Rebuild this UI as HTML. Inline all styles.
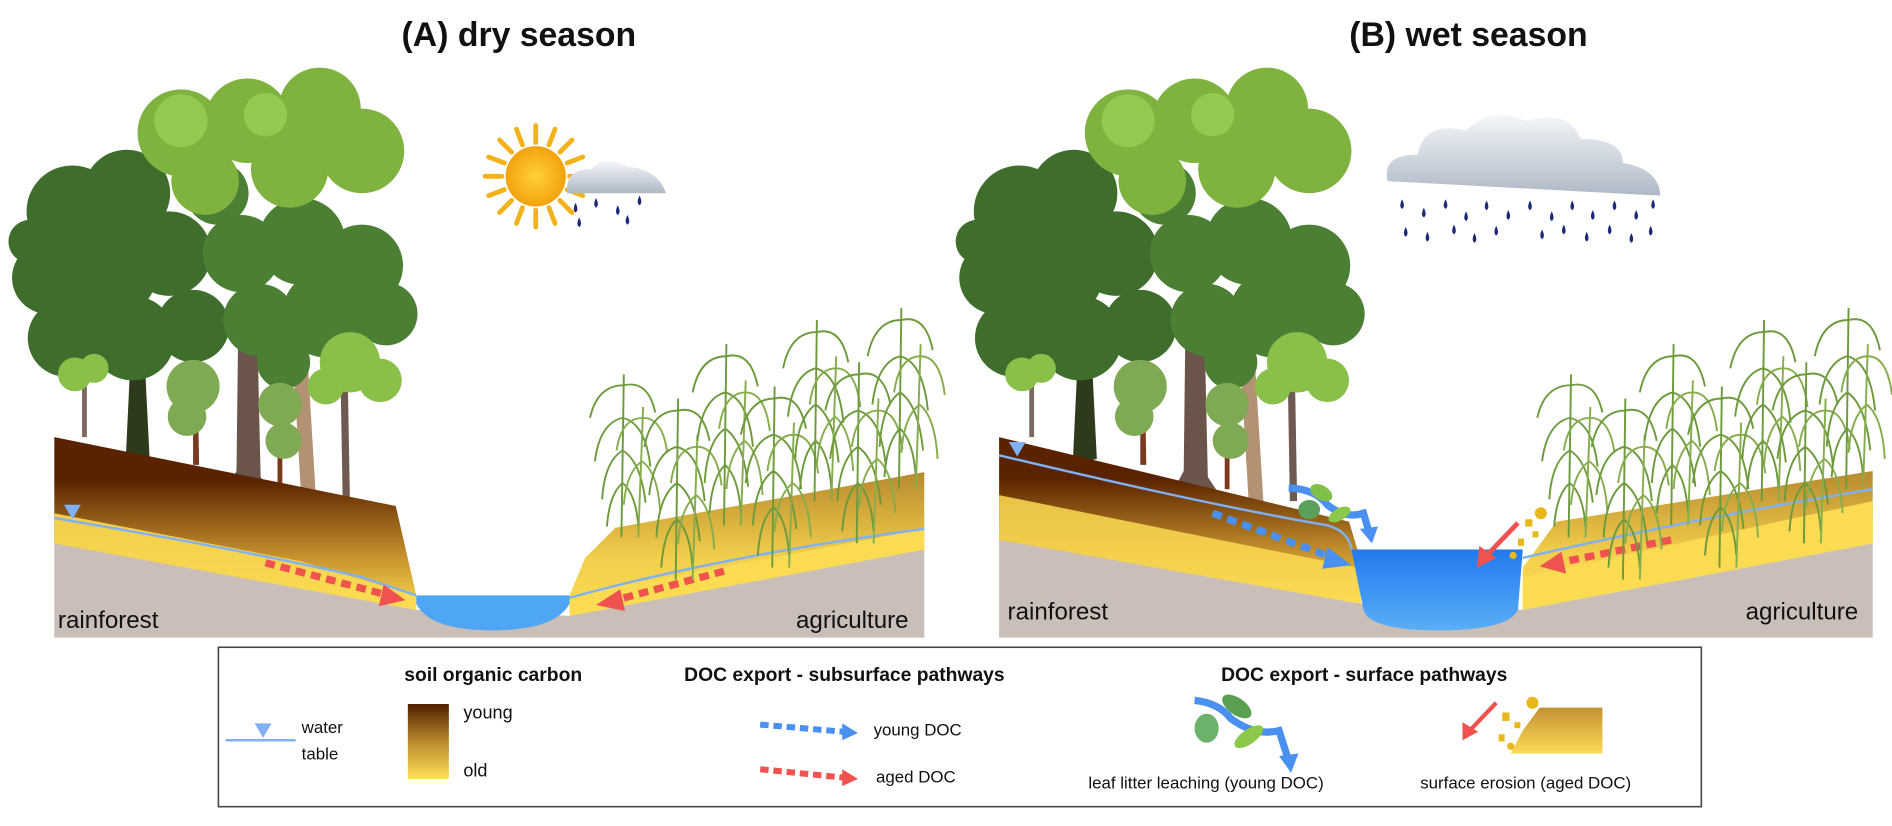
<!DOCTYPE html>
<html><head><meta charset="utf-8"><style>
html,body{margin:0;padding:0;background:#fff;}
svg{display:block;}
text{font-family:"Liberation Sans",Arial,sans-serif;}
</style></head><body>
<svg width="1892" height="826" viewBox="0 0 1568 684" preserveAspectRatio="none" xmlns="http://www.w3.org/2000/svg">
<defs>
<linearGradient id="soilL" x1="0" y1="0" x2="0" y2="1">
<stop offset="0" stop-color="#5a2300"/><stop offset="0.25" stop-color="#5a2300"/><stop offset="0.7" stop-color="#c8942e"/><stop offset="1" stop-color="#fbdb52"/></linearGradient>
<linearGradient id="soilR" x1="0" y1="0" x2="0" y2="1">
<stop offset="0" stop-color="#b88a2e"/><stop offset="0.6" stop-color="#f2cf4c"/><stop offset="1" stop-color="#fbdc55"/></linearGradient>
<linearGradient id="leg" x1="0" y1="0" x2="0" y2="1">
<stop offset="0" stop-color="#4f1f00"/><stop offset="0.5" stop-color="#b98a2c"/><stop offset="1" stop-color="#fde058"/></linearGradient>
<linearGradient id="eros" x1="0" y1="0" x2="0" y2="1">
<stop offset="0" stop-color="#c39133"/><stop offset="1" stop-color="#fbdb55"/></linearGradient>
<linearGradient id="wB" x1="0" y1="0" x2="0" y2="1">
<stop offset="0" stop-color="#2279ee"/><stop offset="1" stop-color="#5aaef7"/></linearGradient>
<radialGradient id="sun"><stop offset="0" stop-color="#ffd23a"/><stop offset="1" stop-color="#f2a20c"/></radialGradient>
<linearGradient id="cloud" x1="0" y1="0" x2="0" y2="1"><stop offset="0" stop-color="#f4f6f9"/><stop offset="1" stop-color="#aeb9c6"/></linearGradient>
<g id="trees">
 <path d="M108,300 L120,300 L124,380 L104,385 Z" fill="#2e3a1c"/>
 <path d="M198,220 L212,220 L216,395 L226,410 L188,405 L196,390 Z" fill="#6b554a"/>
 <path d="M240,250 L252,250 L262,415 L250,418 Z" fill="#b39274"/>
 <path d="M282,300 L288,300 L290,415 L284,415 Z" fill="#6e5a50"/>
 <path d="M68,320 L72,320 L72,362 L68,362 Z" fill="#7b6a60"/>
 <path d="M160,330 L164,330 L165,385 L160,385 Z" fill="#7a3a20"/>
 <path d="M230,350 L234,350 L234,405 L230,405 Z" fill="#7a3a20"/>
 <g fill="#3f6d2b">
 <circle cx="60" cy="175" r="38"/><circle cx="105" cy="160" r="36"/><circle cx="40" cy="230" r="30"/>
 <circle cx="90" cy="225" r="40"/><circle cx="140" cy="210" r="35"/><circle cx="55" cy="280" r="32"/>
 <circle cx="110" cy="280" r="35"/><circle cx="160" cy="270" r="30"/><circle cx="25" cy="200" r="18"/>
 </g>
 <g fill="#4b7f33">
 <circle cx="200" cy="210" r="32"/><circle cx="250" cy="200" r="36"/><circle cx="300" cy="220" r="34"/>
 <circle cx="215" cy="265" r="30"/><circle cx="270" cy="260" r="36"/><circle cx="320" cy="260" r="26"/>
 <circle cx="180" cy="160" r="26"/><circle cx="235" cy="300" r="22"/>
 </g>
 <g fill="#7fb23e">
 <circle cx="150" cy="110" r="36"/><circle cx="205" cy="100" r="35"/><circle cx="265" cy="90" r="34"/>
 <circle cx="300" cy="125" r="35"/><circle cx="170" cy="150" r="28"/><circle cx="240" cy="140" r="32"/>
 <circle cx="270" cy="75" r="18"/>
 </g>
 <g fill="#95c84e"><circle cx="150" cy="100" r="22"/><circle cx="220" cy="95" r="18"/></g>
 <g fill="#8ac04a"><circle cx="290" cy="300" r="25"/><circle cx="315" cy="315" r="18"/><circle cx="270" cy="320" r="15"/>
 <circle cx="62" cy="310" r="14"/><circle cx="78" cy="305" r="12"/></g>
 <g fill="#7fa952"><circle cx="160" cy="320" r="22"/><circle cx="155" cy="345" r="16"/>
 <circle cx="232" cy="335" r="18"/><circle cx="235" cy="365" r="15"/></g>
</g>
<g id="clump" stroke="#6d9a3c" stroke-width="1.6" fill="none">
 <path d="M0,150 L2,0 M2,10 Q-20,10 -26,40 M2,10 Q22,5 28,35 M1,40 Q-18,45 -22,80 M1,40 Q20,45 24,85 M1,70 Q-14,80 -16,115 M1,70 Q16,80 20,118 M1,100 Q-10,110 -12,140 M1,100 Q12,110 14,140"/>
 <path d="M14,150 L18,30 M18,40 Q0,40 -4,70 M18,40 Q34,40 38,72 M17,80 Q4,90 2,120 M17,80 Q30,90 32,125" stroke="#86ad4d"/>
</g>
<g id="cane">
 <use href="#clump" x="10" y="0" transform="translate(0,20) scale(1,0.9)"/>
 <use href="#clump" x="55" y="40"/>
 <use href="#clump" x="95" y="-5"/>
 <use href="#clump" x="135" y="30"/>
 <use href="#clump" x="170" y="-25"/>
 <use href="#clump" x="205" y="10"/>
 <use href="#clump" x="240" y="-35"/>
</g>
<g id="drop"><path d="M0,0 Q-3,6 0,8 Q3,6 0,0Z" fill="#1d2a7a"/></g>
</defs>

<text x="430" y="38" font-size="28" font-weight="bold" text-anchor="middle" fill="#111">(A) dry season</text>
<text x="1217" y="38" font-size="28" font-weight="bold" text-anchor="middle" fill="#111">(B) wet season</text>

<!-- Panel A -->
<use href="#trees"/>
<g transform="translate(444,146)">
 <g stroke="#f3b21a" stroke-width="4" stroke-linecap="round">
 <line x1="0" y1="-28" x2="0" y2="-42"/><line x1="0" y1="28" x2="0" y2="42"/><line x1="-28" y1="0" x2="-42" y2="0"/><line x1="28" y1="0" x2="42" y2="0"/>
 <line x1="20" y1="20" x2="30" y2="30"/><line x1="-20" y1="20" x2="-30" y2="30"/><line x1="20" y1="-20" x2="30" y2="-30"/><line x1="-20" y1="-20" x2="-30" y2="-30"/>
 <line x1="11" y1="-26" x2="16" y2="-39"/><line x1="-11" y1="-26" x2="-16" y2="-39"/><line x1="11" y1="26" x2="16" y2="39"/><line x1="-11" y1="26" x2="-16" y2="39"/>
 <line x1="26" y1="11" x2="39" y2="16"/><line x1="-26" y1="11" x2="-39" y2="16"/><line x1="26" y1="-11" x2="39" y2="-16"/><line x1="-26" y1="-11" x2="-39" y2="-16"/>
 </g>
 <circle r="25" fill="url(#sun)"/>
</g>
<path d="M470,160 Q468,140 490,140 Q500,128 520,138 Q545,140 552,160 Z" fill="url(#cloud)"/>
<use href="#drop" x="477" y="168"/><use href="#drop" x="494" y="164"/><use href="#drop" x="512" y="170"/><use href="#drop" x="530" y="162"/><use href="#drop" x="480" y="180"/><use href="#drop" x="520" y="178"/>
<path d="M45,450 L345,505 L472,510 L766,455 L766,528 L45,528 Z" fill="#c9beb8"/>
<path d="M45,362 L328,419 L345,493 L345,505 L45,450 Z" fill="url(#soilL)"/>
<path d="M45,425 L45,450 L345,505 L345,493 Q300,480 250,465 Z" fill="#fbdb52" opacity="0.9"/>
<path d="M472,493 L485,462 L510,437 L766,391 L766,455 L472,510 Z" fill="url(#soilR)"/>
<path d="M472,493 L766,438 L766,455 L472,510 Z" fill="#fbdb52"/>
<path d="M345,493 L472,493 L472,500 Q460,522 408,522 Q356,522 345,500 Z" fill="#4ea6f5"/>
<path d="M45,429 Q200,455 300,478 Q330,488 345,493" stroke="#7fb1f3" stroke-width="2" fill="none"/>
<path d="M472,495 Q600,460 766,438" stroke="#7fb1f3" stroke-width="2" fill="none"/>
<path d="M53,418 L67,418 L60,430 Z" fill="#7fb1f3"/>
<path d="M220,466 L322,493" stroke="#f0524f" stroke-width="6" stroke-dasharray="8,5" fill="none"/>
<path d="M318,484 L336,497 L314,502 Z" fill="#f0524f"/>
<path d="M600,473 L510,497" stroke="#f0524f" stroke-width="6" stroke-dasharray="8,5" fill="none"/>
<path d="M514,488 L494,501 L518,506 Z" fill="#f0524f"/>
<use href="#cane" transform="translate(505,290)"/>
<text x="48" y="520" font-size="20" fill="#111">rainforest</text>
<text x="753" y="520" font-size="20" fill="#111" text-anchor="end">agriculture</text>

<!-- Panel B -->
<use href="#trees" transform="translate(785,0)"/>
<path d="M1150,150 Q1145,128 1175,128 Q1180,100 1215,108 Q1235,88 1265,100 Q1300,90 1310,115 Q1345,115 1345,135 Q1375,140 1376,162 Z" fill="url(#cloud)"/>
<g>
<use href="#drop" x="1162" y="165"/><use href="#drop" x="1180" y="172"/><use href="#drop" x="1198" y="165"/><use href="#drop" x="1215" y="175"/><use href="#drop" x="1232" y="166"/><use href="#drop" x="1250" y="174"/><use href="#drop" x="1268" y="166"/><use href="#drop" x="1286" y="175"/><use href="#drop" x="1303" y="166"/><use href="#drop" x="1320" y="174"/><use href="#drop" x="1338" y="166"/><use href="#drop" x="1356" y="174"/><use href="#drop" x="1370" y="165"/>
<use href="#drop" x="1165" y="188"/><use href="#drop" x="1183" y="192"/><use href="#drop" x="1205" y="186"/><use href="#drop" x="1222" y="193"/><use href="#drop" x="1240" y="187"/><use href="#drop" x="1278" y="190"/><use href="#drop" x="1296" y="186"/><use href="#drop" x="1315" y="192"/><use href="#drop" x="1334" y="186"/><use href="#drop" x="1352" y="193"/><use href="#drop" x="1368" y="187"/>
</g>
<path d="M828,447 L1128,500 L1262,505 L1552,450 L1552,528 L828,528 Z" fill="#c9beb8"/>
<path d="M828,362 L1118,432 L1125,455 L1128,500 L828,447 Z" fill="url(#soilL)"/>
<path d="M828,410 L828,447 L1128,500 L1125,470 Q1000,445 828,410 Z" fill="#fbdb52" opacity="0.85"/>
<path d="M1262,470 L1290,432 L1552,390 L1552,450 L1262,505 Z" fill="url(#soilR)"/>
<path d="M1262,478 L1552,415 L1552,450 L1262,505 Z" fill="#fbdb52"/>
<path d="M1120,455 L1262,455 L1258,505 Q1250,522 1192,522 Q1135,522 1130,505 Z" fill="url(#wB)"/>
<path d="M828,377 Q1000,418 1100,435 Q1118,440 1120,455" stroke="#7fb1f3" stroke-width="2" fill="none"/>
<path d="M1262,462 Q1400,430 1552,405" stroke="#7fb1f3" stroke-width="2" fill="none"/>
<path d="M836,366 L850,366 L843,378 Z" fill="#7fb1f3"/>
<path d="M1005,425 L1105,462" stroke="#4a90f0" stroke-width="6" stroke-dasharray="8,5" fill="none"/>
<path d="M1100,453 L1120,468 L1096,471 Z" fill="#4a90f0"/>
<path d="M1068,404 Q1090,405 1100,418 Q1115,430 1130,425 L1135,442" stroke="#4a90f0" stroke-width="6" fill="none"/>
<path d="M1127,438 L1137,450 L1142,436 Z" fill="#4a90f0"/>
<ellipse cx="1095" cy="408" rx="10" ry="6" fill="#7fc04a" transform="rotate(30 1095 408)"/>
<ellipse cx="1085" cy="422" rx="9" ry="8" fill="#5aa05a"/>
<ellipse cx="1110" cy="426" rx="10" ry="5" fill="#8cc84a" transform="rotate(-30 1110 426)"/>
<path d="M1385,447 L1292,466" stroke="#f0524f" stroke-width="6" stroke-dasharray="8,5" fill="none"/>
<path d="M1294,457 L1276,469 L1298,475 Z" fill="#f0524f"/>
<path d="M1258,433 L1232,460" stroke="#f0524f" stroke-width="4" fill="none"/>
<path d="M1226,452 L1224,470 L1240,462 Z" fill="#f0524f"/>
<g fill="#e8b81a"><circle cx="1277" cy="425" r="5"/><rect x="1264" y="430" width="6" height="6"/><rect x="1270" y="440" width="5" height="5"/><rect x="1258" y="446" width="5" height="6"/><circle cx="1254" cy="460" r="3"/></g>
<use href="#cane" transform="translate(1290,290)"/>
<text x="835" y="513" font-size="20" fill="#111">rainforest</text>
<text x="1540" y="513" font-size="20" fill="#111" text-anchor="end">agriculture</text>

<!-- Legend -->
<rect x="181" y="536" width="1229" height="132" fill="#fff" stroke="#444" stroke-width="1.3"/>
<text x="335" y="564" font-size="16" font-weight="bold" fill="#111">soil organic carbon</text>
<text x="567" y="564" font-size="16" font-weight="bold" fill="#111">DOC export - subsurface pathways</text>
<text x="1012" y="564" font-size="16" font-weight="bold" fill="#111">DOC export - surface pathways</text>
<rect x="338" y="583" width="34" height="62" fill="url(#leg)"/>
<text x="384" y="595" font-size="15" fill="#111">young</text>
<text x="384" y="643" font-size="15" fill="#111">old</text>
<line x1="187" y1="613" x2="245" y2="613" stroke="#7fb1f3" stroke-width="2"/>
<path d="M211,599 L225,599 L218,611 Z" fill="#7fb1f3"/>
<text x="250" y="607" font-size="14" fill="#111">water</text>
<text x="250" y="629" font-size="14" fill="#111">table</text>
<path d="M630,600 L700,606" stroke="#4a90f0" stroke-width="5" stroke-dasharray="7,4" fill="none"/>
<path d="M698,599 L711,607 L698,613 Z" fill="#4a90f0"/>
<text x="724" y="609" font-size="14" fill="#111">young DOC</text>
<path d="M630,637 L700,644" stroke="#f0524f" stroke-width="5" stroke-dasharray="7,4" fill="none"/>
<path d="M698,637 L711,645 L698,651 Z" fill="#f0524f"/>
<text x="726" y="648" font-size="14" fill="#111">aged DOC</text>
<path d="M990,580 Q1010,582 1020,595 Q1040,610 1060,605 L1068,630" stroke="#4a90f0" stroke-width="6" fill="none"/>
<path d="M1060,626 L1070,640 L1076,624 Z" fill="#4a90f0"/>
<ellipse cx="1025" cy="585" rx="14" ry="7" fill="#5aa050" transform="rotate(35 1025 585)"/>
<ellipse cx="1000" cy="603" rx="10" ry="12" fill="#6cb26a"/>
<ellipse cx="1035" cy="610" rx="14" ry="6" fill="#8cc84a" transform="rotate(-35 1035 610)"/>
<text x="902" y="653" font-size="14" fill="#111">leaf litter leaching (young DOC)</text>
<path d="M1240,582 L1218,605" stroke="#f0524f" stroke-width="3.5"/>
<path d="M1212,598 L1212,613 L1225,606 Z" fill="#f0524f"/>
<path d="M1262,605 L1276,586 L1328,586 L1328,624 L1252,624 Z" fill="url(#eros)"/>
<g fill="#e8b81a"><circle cx="1270" cy="582" r="5"/><rect x="1245" y="590" width="6" height="7"/><rect x="1255" y="598" width="5" height="5"/><rect x="1242" y="608" width="5" height="6"/><circle cx="1252" cy="618" r="3"/></g>
<text x="1177" y="653" font-size="14" fill="#111">surface erosion (aged DOC)</text>
</svg>
</body></html>
